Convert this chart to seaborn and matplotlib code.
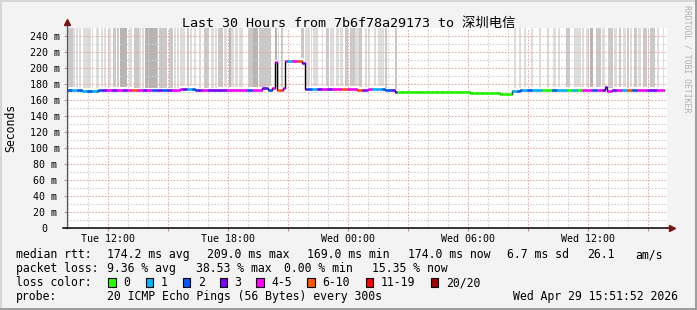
import numpy as np
import pandas as pd
import matplotlib
matplotlib.use("Agg")
import matplotlib.pyplot as plt
import seaborn as sns
from matplotlib.patches import Rectangle

# ---------------- data ----------------
title = "Last 30 Hours from 7b6f78a29173 to 深圳电信"
window_start = 9.935   # hours after Tue 00:00
window_end = 39.935
x_major = [12, 15, 18, 21, 24, 27, 30, 33, 36, 39]
x_major_labels = ["Tue 12:00", "", "Tue 18:00", "", "Wed 00:00", "", "Wed 06:00", "", "Wed 12:00", ""]
y_major = [0, 20, 40, 60, 80, 100, 120, 140, 160, 180, 200, 220, 240]
y_major_labels = ["0", "20 m", "40 m", "60 m", "80 m", "100 m", "120 m", "140 m",
                  "160 m", "180 m", "200 m", "220 m", "240 m"]

# median rtt (ms), step levels starting at given hour
med_start = [9.935, 10.685, 11.485, 13.085, 15.585, 16.335, 17.335, 18.585, 19.685, 19.985,
             20.185, 20.335, 20.435, 20.735, 20.835, 21.7, 21.85, 24.435, 24.985, 25.835,
             26.335, 27.585, 30.085, 31.585, 32.185, 32.585, 36.835, 36.935, 37.185, 38.585]
med_value = [173, 171.5, 172.5, 172, 173.5, 172, 172.5, 173, 174.5, 173,
             175, 207, 173, 175, 208.5, 206, 174, 173, 173.5, 172,
             170.5, 169.5, 169, 167.5, 171, 172.5, 176, 171.5, 172.5, 173]
med_end = 39.785

# packet loss class per 15 minutes (index into loss_colors)
loss_step = 0.25
loss_codes = ("21212123" "43434543" "42323443" "12343333" "44442443"
              "24541453" "21343445" "44534112" "23000000" "00000000"
              "00000000" "01212110" "02110104" "42434341" "52443344")
loss_colors = ["#26ff00", "#00b8ff", "#0059ff", "#7e00ff", "#ff00ff", "#ff5500", "#ff0000", "#a10000"]
loss_labels = ["0", "1", "2", "3", "4-5", "6-10", "11-19", "20/20"]

# smoke (ping spread) bands
smoke_start = [9.95, 10.25, 10.38, 10.52, 10.72, 11.05, 11.19, 11.39, 11.62, 11.8, 12.0, 12.25,
               12.42, 12.59, 13.05, 13.29, 13.55, 13.66, 13.85, 14.42, 14.52, 15.02, 15.3, 15.42,
               15.6, 15.92, 16.1, 16.29, 16.55, 16.79, 17.12, 17.33, 17.49, 17.8, 18.02, 18.12,
               18.35, 18.55, 18.99, 19.25, 19.52, 19.88, 20.35, 20.49, 20.62, 21.65, 21.85, 22.12,
               22.25, 22.69, 22.89, 23.1, 23.39, 23.6, 23.85, 24.09, 24.35, 24.55, 24.82, 24.99,
               25.29, 25.49, 25.85, 26.35, 32.29, 32.52, 32.8, 33.15, 33.52, 33.95, 34.25, 34.5,
               34.89, 35.29, 35.7, 35.9, 36.09, 36.39, 36.7, 36.99, 37.29, 37.52, 37.72, 37.95,
               38.1, 38.3, 38.49, 38.72, 38.96, 39.09, 39.42, 39.72]
smoke_end = [10.25, 10.35, 10.48, 10.62, 11.02, 11.12, 11.25, 11.52, 11.72, 11.9, 12.15, 12.39,
             12.55, 12.92, 13.19, 13.52, 13.62, 13.8, 14.42, 14.5, 14.92, 15.25, 15.38, 15.52,
             15.85, 16.05, 16.2, 16.39, 16.65, 17.02, 17.29, 17.45, 17.75, 17.95, 18.12, 18.29,
             18.49, 18.75, 19.25, 19.49, 19.88, 20.15, 20.42, 20.55, 20.72, 21.79, 22.09, 22.2,
             22.49, 22.75, 23.02, 23.3, 23.52, 23.75, 24.0, 24.35, 24.52, 24.69, 24.92, 25.09,
             25.39, 25.79, 25.92, 26.45, 32.39, 32.62, 32.9, 33.25, 33.62, 34.05, 34.39, 34.6,
             35.09, 35.62, 35.8, 36.05, 36.22, 36.62, 36.85, 37.25, 37.42, 37.62, 37.89, 38.05,
             38.2, 38.42, 38.62, 38.92, 39.05, 39.35, 39.52, 39.79]
smoke_shade = [2, 1, 1, 1, 1, 1, 1, 1, 1, 1, 1, 2,
               2, 3, 1, 2, 1, 1, 3, 2, 2, 2, 1, 1,
               1, 2, 1, 1, 1, 2, 1, 1, 2, 1, 3, 1,
               1, 1, 2, 3, 2, 2, 3, 1, 2, 2, 1, 1,
               1, 1, 2, 1, 1, 1, 2, 2, 1, 2, 1, 1,
               1, 1, 2, 2, 1, 1, 1, 1, 1, 1, 1, 1,
               2, 1, 1, 1, 3, 2, 1, 2, 1, 2, 1, 2,
               1, 2, 1, 2, 1, 2, 1, 1]
shade_colors = {1: "#dddddd", 2: "#c9c9c9", 3: "#b5b5b5"}

legend_row1 = [(16, "median rtt:"), (107.3, "174.2 ms avg"), (207.3, "209.0 ms max"),
               (306.7, "169.0 ms min"), (408.3, "174.0 ms now"), (506.7, "6.7 ms sd"),
               (586.7, "26.1"), (635.7, "am/s")]
legend_row2 = [(16, "packet loss:"), (107.3, "9.36 % avg"), (195.8, "38.53 % max"),
               (284.3, "0.00 % min"), (372.3, "15.35 % now")]
legend_box_x = [108.3, 145.7, 182.7, 219.7, 256.0, 307.3, 365.7, 430.7]
probe_text = "20 ICMP Echo Pings (56 Bytes) every 300s"
date_text = "Wed Apr 29 15:51:52 2026"

# ---------------- drawing ----------------
W, H = 697, 310
MONO = "DejaVu Sans Mono"
plt.rcParams["font.family"] = [MONO, "Noto Sans CJK SC"]

def fx(x):
    return x / W

def fy(y):
    return 1 - y / H

fig = plt.figure(figsize=(W / 100, H / 100), dpi=100, facecolor="#f3f3f3")
ax = fig.add_axes([fx(67), fy(228), 600 / W, 200 / H])
ax.set_facecolor("white")
ax.set_xlim(window_start, window_end)
ax.set_ylim(0, 250)

# smoke
med_start_a = np.array(med_start)
med_value_a = np.array(med_value)
s0 = np.array(smoke_start)
s1 = np.array(smoke_end)
idx = np.clip(np.searchsorted(med_start_a, s0, side="right") - 1, 0, None)
bottoms = med_value_a[idx] + 3.5
ax.bar(s0, 250 - bottoms, width=s1 - s0, bottom=bottoms, align="edge",
       color=[shade_colors[s] for s in smoke_shade], linewidth=0, zorder=1)

# black median step line (seaborn)
df = pd.DataFrame({"h": med_start + [med_end], "v": med_value + [med_value[-1]]})
sns.lineplot(data=df, x="h", y="v", drawstyle="steps-post", color="black",
             linewidth=1.0, ax=ax, zorder=3, legend=False)

# coloured median pieces by loss
edges = set(window_start + loss_step * i for i in range(len(loss_codes) + 1))
edges |= set(med_start)
edges.add(med_end)
edges = sorted(e for e in edges if window_start <= e <= med_end)
ys, x0s, x1s, cols = [], [], [], []
for a, b in zip(edges[:-1], edges[1:]):
    m = 0.5 * (a + b)
    k = min(int((m - window_start) / loss_step), len(loss_codes) - 1)
    j = max(np.searchsorted(med_start_a, m, side="right") - 1, 0)
    ys.append(med_value_a[j]); x0s.append(a); x1s.append(b)
    cols.append(loss_colors[int(loss_codes[k])])
ax.hlines(ys, x0s, x1s, colors=cols, linewidth=1.9, zorder=4)

# grid
ax.set_xticks(x_major)
ax.set_xticklabels(x_major_labels)
ax.set_xticks(np.arange(10, 40, 1), minor=True)
ax.set_yticks(y_major)
ax.set_yticklabels(y_major_labels, ha="center")
ax.set_yticks(np.arange(10, 250, 20), minor=True)
ax.set_axisbelow(False)
dot = (0, (1.5, 1.5))
ax.grid(which="minor", color="#cfcfcf", linestyle=dot, linewidth=0.75)
ax.grid(which="major", color="#f3a3a3", linestyle=dot, linewidth=0.75)
ax.tick_params(axis="x", which="major", length=2, width=0.8, color="#e08080",
               pad=2.0, labelsize=7.2, labelfontfamily=MONO)
ax.tick_params(axis="x", which="minor", length=0)
ax.tick_params(axis="y", which="major", length=2.5, width=0.8, color="#a0a0a0",
               pad=13.5, labelsize=7.2, labelfontfamily=MONO)
ax.tick_params(axis="y", which="minor", length=0)
for sp in ax.spines.values():
    sp.set_visible(False)
ax.set_xlabel("")
ax.set_ylabel("")

# axes with arrows
ax.plot([window_start, window_start], [0, 256], color="#555555", lw=0.9, clip_on=False, zorder=6)
ax.plot([window_start - 0.2, window_end + 0.2], [0, 0], color="black", lw=1.1, clip_on=False, zorder=6)
ax.plot([window_start], [258], marker="^", ms=4.5, color="#7a1212", clip_on=False, zorder=7)
ax.plot([window_end + 0.25], [0], marker=">", ms=4.5, color="#7a1212", clip_on=False, zorder=7)

# texts
fig.text(fx(348.5), fy(27), title, ha="center", va="baseline", fontsize=9.6,
         family=[MONO, "Noto Sans CJK SC"])
fig.text(fx(11), fy(128), "Seconds", rotation=90, ha="center", va="center",
         fontsize=8.3, family=MONO)
fig.text(fx(687), fy(5), "RRDTOOL / TOBI OETIKER", rotation=270, ha="center", va="top",
         fontsize=5.9, color="#b0b0b0", family=MONO)

LF = 8.3
for x, s in legend_row1:
    fig.text(fx(x), fy(258), s, ha="left", va="baseline", fontsize=LF, family=MONO)
for x, s in legend_row2:
    fig.text(fx(x), fy(272), s, ha="left", va="baseline", fontsize=LF, family=MONO)
fig.text(fx(16), fy(286), "loss color:", ha="left", va="baseline", fontsize=LF, family=MONO)
for bx, c, lab in zip(legend_box_x, loss_colors, loss_labels):
    fig.add_artist(Rectangle((fx(bx), fy(287)), 7.5 / W, 9 / H, transform=fig.transFigure,
                             facecolor=c, edgecolor="black", linewidth=0.8))
    fig.text(fx(bx + 15), fy(286), lab, ha="left", va="baseline", fontsize=LF, family=MONO)
fig.text(fx(16), fy(300), "probe:", ha="left", va="baseline", fontsize=LF, family=MONO)
fig.text(fx(107.3), fy(300), probe_text, ha="left", va="baseline", fontsize=LF, family=MONO)
fig.text(fx(513.3), fy(300), date_text, ha="left", va="baseline", fontsize=LF, family=MONO)

# 3D border
fig.add_artist(Rectangle((0, fy(2)), 1, 2 / H, transform=fig.transFigure, color="#d6d6d6", lw=0))
fig.add_artist(Rectangle((0, 0), 2 / W, 1, transform=fig.transFigure, color="#d6d6d6", lw=0))
fig.add_artist(Rectangle((fx(695), 0), 2 / W, 1, transform=fig.transFigure, color="#9e9e9e", lw=0))
fig.add_artist(Rectangle((0, 0), 1, 2 / H, transform=fig.transFigure, color="#9e9e9e", lw=0))

fig.savefig("out.png", dpi=100, facecolor=fig.get_facecolor())
